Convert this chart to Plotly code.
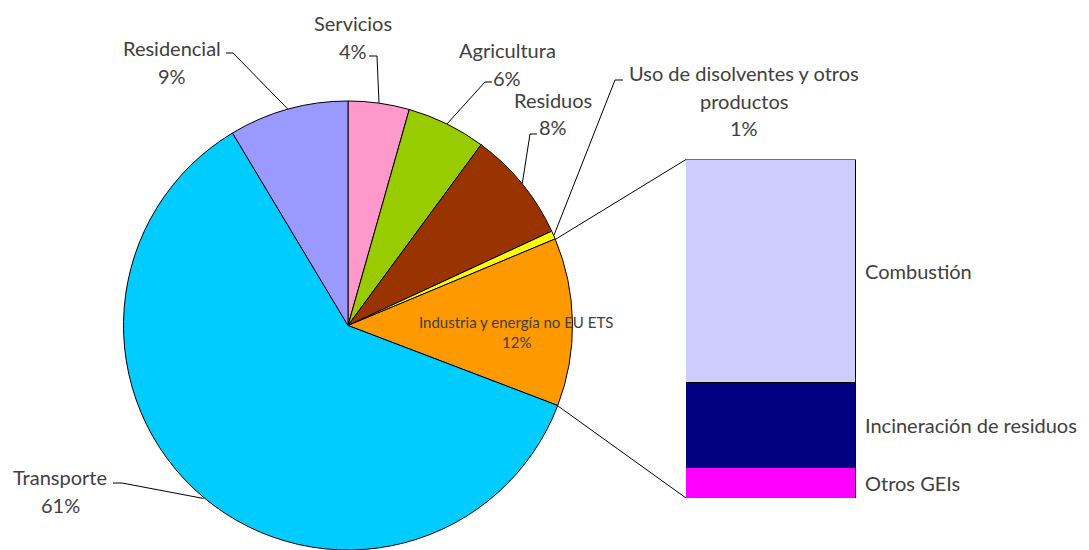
import math
import plotly.graph_objects as go

# Non-EU ETS emissions by sector (% of total)
sectors = ["Servicios", "Agricultura", "Residuos",
           "Uso de disolventes y otros productos",
           "Industria y energía no EU ETS", "Transporte", "Residencial"]
sector_shares = [4.4, 5.7, 8.0, 0.6, 12.1, 60.6, 8.6]
sector_colors = ["#FF99CC", "#99CC00", "#993300", "#FFFF00",
                 "#FF9900", "#00CCFF", "#9999FF"]
sector_label_lines = [["Servicios"], ["Agricultura"], ["Residuos"],
                      ["Uso de disolventes y otros", "productos"],
                      ["Industria y energía no EU ETS"], ["Transporte"],
                      ["Residencial"]]

# Breakdown of the industry sector (stacked from the bottom up)
parts = ["Otros GEIs", "Incineración de residuos", "Combustión"]
part_shares = [9.1, 25.1, 65.8]
part_colors = ["#FF00FF", "#000080", "#CCCCFF"]
EXPANDED = "Industria y energía no EU ETS"

# ---- geometry (pixels, measured from the top-left corner) ----
W, H = 1089, 550
CX, CY, R = 348, 326, 225
BAR_X0, BAR_X1, BAR_Y0, BAR_Y1 = 686, 856, 159.5, 498

FONT = "Lato"
TXT = "#404040"
SIZE = 20


def px(x):
    return x / W


def py(y):
    return 1 - y / H


def edge(frac):
    """Point on the pie rim at a cumulative fraction (clockwise from 12 o'clock)."""
    a = 2 * math.pi * frac
    return CX + R * math.sin(a), CY - R * math.cos(a)


total = sum(sector_shares)
cum = [0.0]
for v in sector_shares:
    cum.append(cum[-1] + v / total)
pct = [int(v / total * 100 + 0.5) for v in sector_shares]

fig = go.Figure()
fig.add_trace(go.Pie(
    labels=sectors, values=sector_shares, sort=False,
    direction="clockwise", rotation=0,
    marker=dict(colors=sector_colors, line=dict(color="black", width=1)),
    textinfo="none", hoverinfo="label+percent", showlegend=False,
    domain=dict(x=[px(CX - R), px(CX + R)], y=[max(0, py(CY + R)), py(CY - R)]),
))

for name, v, c in zip(parts, part_shares, part_colors):
    fig.add_trace(go.Bar(
        x=[0], y=[v], width=1, name=name, showlegend=False,
        marker=dict(color=c, line=dict(color="black", width=1)),
        xaxis="x", yaxis="y",
    ))

# label layout: (centre x, first line y, line step, hook start, hook end x)
label_pos = {
    "Servicios": (353, 23, 28, (369, 56), 377),
    "Agricultura": (507, 50, 28, (492, 82), 485),
    "Residuos": (553, 100, 27, (537, 134), 530),
    "Uso de disolventes y otros productos": (744, 73, 27.5, (623, 80), 615),
    "Transporte": (60, 477, 28, (113, 483), 122),
    "Residencial": (172, 48, 28, (226, 53), 233),
}

annotations = []
shapes = []
for i, name in enumerate(sectors):
    lines = sector_label_lines[i] + [f"{pct[i]}%"]
    if name == EXPANDED:
        # label drawn inside the slice
        for k, t in enumerate(lines):
            annotations.append(dict(
                x=px(516), y=py(322 + 20 * k), xref="paper", yref="paper",
                text=t, showarrow=False, xanchor="center", yanchor="middle",
                font=dict(family=FONT, size=15, color=TXT)))
        continue
    x0, y0, step, hs, hex_ = label_pos[name]
    for k, t in enumerate(lines):
        annotations.append(dict(
            x=px(x0), y=py(y0 + step * k), xref="paper", yref="paper",
            text=t, showarrow=False, xanchor="center", yanchor="middle",
            font=dict(family=FONT, size=SIZE, color=TXT)))
    ex, ey = edge((cum[i] + cum[i + 1]) / 2)
    shapes.append(dict(
        type="path", xref="paper", yref="paper",
        path=f"M {px(hs[0])},{py(hs[1])} L {px(hex_)},{py(hs[1])} L {px(ex)},{py(ey)}",
        line=dict(color="black", width=1)))

# connector lines from the expanded slice to the stacked bar
j = sectors.index(EXPANDED)
sx, sy = edge(cum[j])
tx, ty = edge(cum[j + 1])
shapes.append(dict(type="line", xref="paper", yref="paper",
                   x0=px(sx), y0=py(sy), x1=px(BAR_X0), y1=py(BAR_Y0),
                   line=dict(color="black", width=1)))
shapes.append(dict(type="line", xref="paper", yref="paper",
                   x0=px(tx), y0=py(ty), x1=px(BAR_X0), y1=py(BAR_Y1),
                   line=dict(color="black", width=1)))

# bar segment labels to the right
acc = 0.0
for name, v in zip(parts, part_shares):
    annotations.append(dict(
        x=0.5, y=acc + v / 2, xref="x", yref="y", text=name,
        showarrow=False, xanchor="left", yanchor="middle", xshift=7,
        font=dict(family=FONT, size=SIZE, color=TXT)))
    acc += v

fig.update_layout(
    width=W, height=H, autosize=False,
    margin=dict(l=0, r=0, t=0, b=0),
    paper_bgcolor="white", plot_bgcolor="white",
    barmode="stack", bargap=0,
    xaxis=dict(domain=[px(BAR_X0), px(BAR_X1)], range=[-0.5, 0.5], visible=False),
    yaxis=dict(domain=[py(BAR_Y1), py(BAR_Y0)], range=[0, sum(part_shares)], visible=False),
    annotations=annotations, shapes=shapes,
)

fig.write_html("out.html")
